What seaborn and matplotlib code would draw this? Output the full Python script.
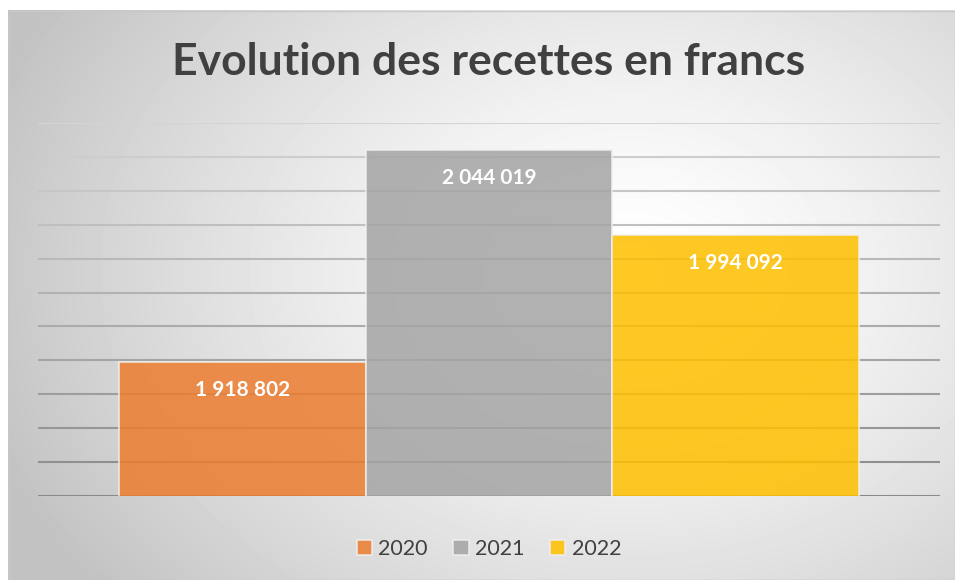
import seaborn as sns
import matplotlib.pyplot as plt
import numpy as np
import pandas as pd

annees = ['2020', '2021', '2022']
recettes = [1918802, 2044019, 1994092]
etiquettes = ['1 918 802', '2 044 019', '1 994 092']
couleurs = ['#ED7D31', '#A5A5A5', '#FFC000']

df = pd.DataFrame({'serie': ['Recettes'] * 3, 'annee': annees, 'recettes': recettes})

sns.set_style('white')
plt.rcParams['font.family'] = ['Lato', 'DejaVu Sans']

fig = plt.figure(figsize=(9.55, 5.8), dpi=100)

# fond en dégradé radial
bg = fig.add_axes([8 / 955, 0, 947 / 955, 570 / 580])
yy, xx = np.mgrid[0:570, 0:947]
r = np.sqrt(((xx - 620) / 640) ** 2 + ((yy - 260) / 480) ** 2)
g = np.clip(1 - 0.22 * r ** 1.4, 0.76, 1)
bg.imshow(g, cmap='gray', vmin=0, vmax=1, aspect='auto')
bg.axis('off')
bg.add_patch(plt.Rectangle((0, 0), 946, 569, fill=False, edgecolor='#c8c8c8', lw=1))

ax = fig.add_axes([38 / 955, 1 - 496 / 580, 902 / 955, (496 - 123) / 580])
ax.patch.set_alpha(0)

ticks = np.arange(1840000, 2060001, 20000)
for i, t in enumerate(ticks):
    # lignes de quadrillage plus claires vers le haut
    c = 0.54 + (0.83 - 0.54) * i / (len(ticks) - 1)
    ax.axhline(t, color=str(c), lw=1.5, zorder=0)

sns.barplot(data=df, x='serie', y='recettes', hue='annee', palette=couleurs,
            saturation=1, width=0.82, gap=0, alpha=0.86, edgecolor='#f0f0f0', linewidth=1.2,
            legend=True, ax=ax, zorder=2)

ax.set_ylim(1840000, 2060000)
ax.set_xlim(-0.5, 0.5)
ax.grid(False)
ax.tick_params(left=False, bottom=False, labelleft=False, labelbottom=False)
for s in ax.spines.values():
    s.set_visible(False)
ax.set_xlabel('')
ax.set_ylabel('')

for p, txt in zip(ax.patches, etiquettes):
    ax.annotate(txt, (p.get_x() + p.get_width() / 2, p.get_height()),
                xytext=(0, -20), textcoords='offset points', ha='center', va='center',
                color='white', fontsize=15, fontweight='bold', zorder=3)

leg = ax.legend(loc='center', bbox_to_anchor=(0.5, -0.142), ncol=3, frameon=False,
                fontsize=15.5, handlelength=0.7, handleheight=0.7, handletextpad=0.3,
                columnspacing=1.2, labelcolor='#404040')

fig.text(489 / 955, 1 - 62 / 580, 'Evolution des recettes en francs', ha='center', va='center',
         fontsize=32, fontweight='bold', color='#404040')

fig.savefig('out.png', dpi=100)
